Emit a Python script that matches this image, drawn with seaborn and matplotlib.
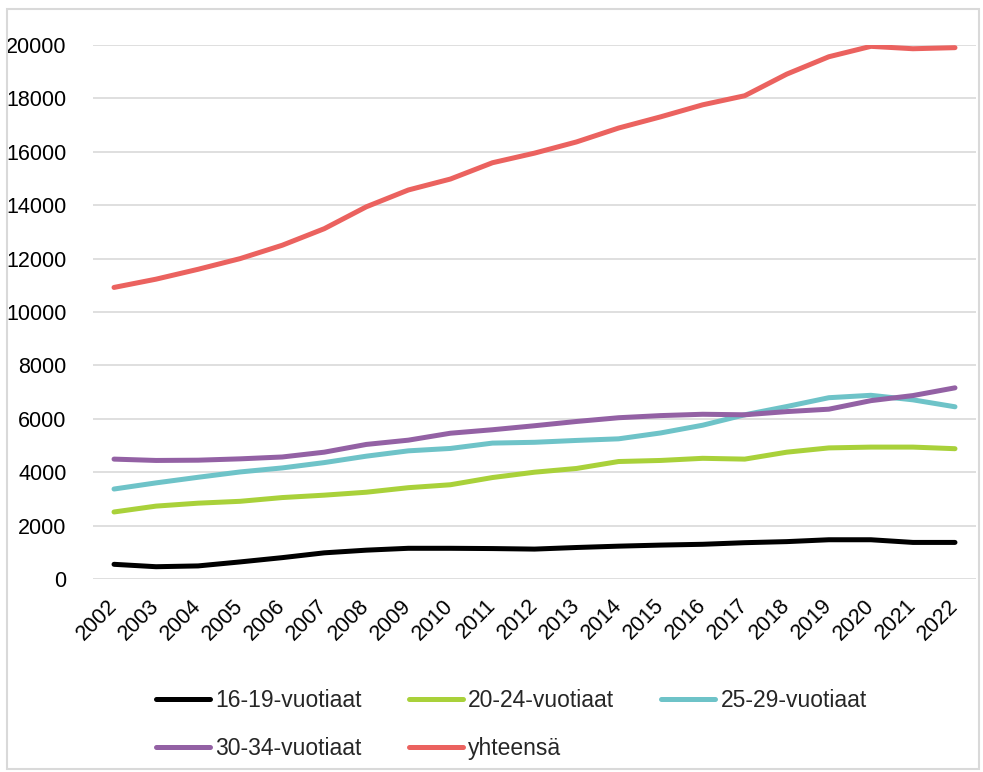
import matplotlib
matplotlib.use("Agg")
import matplotlib.pyplot as plt
import seaborn as sns
import pandas as pd
from matplotlib.patches import Rectangle
from matplotlib.lines import Line2D

years = list(range(2002, 2023))
year_labels = [str(y) for y in years]

v16_19 = [550, 460, 490, 640, 800, 980, 1080, 1150, 1150, 1140, 1120, 1180, 1230, 1270, 1300, 1360, 1400, 1470, 1470, 1370, 1370]
v20_24 = [2510, 2730, 2840, 2910, 3050, 3140, 3250, 3420, 3530, 3800, 4000, 4140, 4400, 4440, 4520, 4490, 4750, 4910, 4940, 4940, 4880]
v25_29 = [3370, 3600, 3810, 4010, 4160, 4360, 4600, 4800, 4890, 5090, 5120, 5190, 5250, 5470, 5760, 6150, 6460, 6790, 6880, 6710, 6450]
v30_34 = [4490, 4440, 4450, 4500, 4570, 4750, 5040, 5200, 5460, 5590, 5740, 5900, 6040, 6120, 6170, 6150, 6270, 6360, 6680, 6870, 7160]
v_total = [10920, 11230, 11600, 12000, 12500, 13120, 13940, 14570, 14980, 15590, 15950, 16370, 16890, 17310, 17760, 18100, 18910, 19560, 19950, 19860, 19900]

series_names = ["16-19-vuotiaat", "20-24-vuotiaat", "25-29-vuotiaat", "30-34-vuotiaat", "yhteensä"]
series_values = [v16_19, v20_24, v25_29, v30_34, v_total]
colors = ["#000000", "#A9D13A", "#6EC3C8", "#9361A4", "#EB625F"]

yticks = list(range(0, 20001, 2000))
ytick_labels = [str(v) for v in yticks]

rows = []
for name, vals in zip(series_names, series_values):
    for i, v in enumerate(vals):
        rows.append({"idx": i, "value": v, "series": name})
df = pd.DataFrame(rows)

sns.set_theme(style="white")
plt.rcParams["font.family"] = ["Liberation Sans", "DejaVu Sans"]

fig = plt.figure(figsize=(9.83, 7.72), dpi=100)
ax = fig.add_axes([93/983, 1-579/772, (976-93)/983, (579-45)/772])

sns.lineplot(data=df, x="idx", y="value", hue="series", hue_order=series_names,
             palette=colors, linewidth=3.6, ax=ax, legend=False, sort=False)
for ln in ax.get_lines():
    ln.set_solid_capstyle("round")
    ln.set_solid_joinstyle("round")

ax.set_xlim(-0.5, len(years) - 0.5)
ax.set_ylim(0, 20000)
ax.set_yticks(yticks)
ax.set_yticklabels(ytick_labels, fontsize=15.5, color="#000000")
ax.set_xticks(range(len(years)))
ax.set_xticklabels(year_labels, fontsize=15.5, color="#000000", rotation=45,
                   ha="right", va="center", rotation_mode="anchor")
ax.tick_params(axis="y", length=0, pad=19)
ax.tick_params(axis="x", length=0, pad=17)
ax.set_xlabel("")
ax.set_ylabel("")
ax.grid(axis="y", color="#D9D9D9", linewidth=1.2)
ax.set_axisbelow(True)
for s in ax.spines.values():
    s.set_visible(False)

# legend
handles = [Line2D([0], [0], color=c, linewidth=3.6, solid_capstyle="round") for c in colors]
order = [0, 3, 1, 4, 2]
fig.legend([handles[i] for i in order], [series_names[i] for i in order],
           loc="center", bbox_to_anchor=(511.5/983, 1-724.5/772), ncol=3,
           frameon=False, fontsize=16.5, handlelength=2.35, handletextpad=0.25,
           columnspacing=2.05, labelspacing=1.05)

# chart border
fig.patches.append(Rectangle((7/983, 3/772), (979-7)/983, (763-3)/772,
                             transform=fig.transFigure, fill=False,
                             edgecolor="#D9D9D9", linewidth=1.5))

fig.savefig("out.png", dpi=100)
